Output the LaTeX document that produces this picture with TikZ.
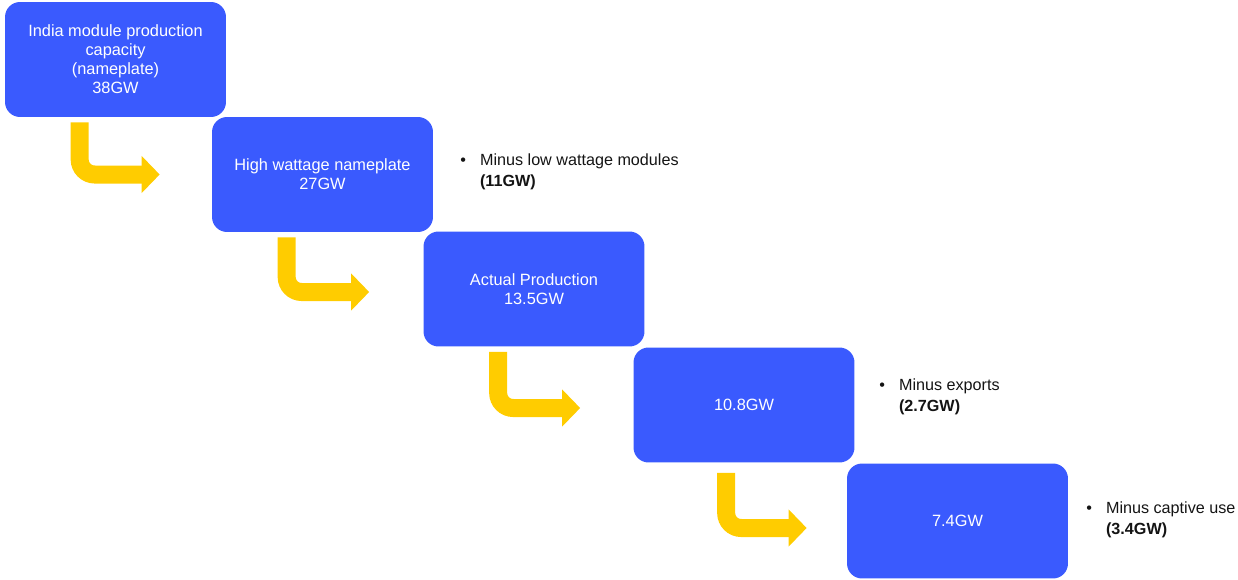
\documentclass[tikz,border=0pt]{standalone}
\usepackage{fontspec}
\setmainfont{Liberation Sans}
\usetikzlibrary{arrows.meta}
\definecolor{boxblue}{RGB}{58,90,254}
\definecolor{flowyellow}{RGB}{255,204,0}
\definecolor{notetext}{RGB}{20,20,20}
\begin{document}
\begin{tikzpicture}[x=0.02cm,y=-0.02cm,
  stagebox/.style={fill=boxblue,rounded corners=0.3cm,minimum width=4.42cm,minimum height=2.3cm,
    text=white,align=center,inner sep=2pt,font=\fontsize{9.3}{10.8}\selectfont},
  flow/.style={draw=flowyellow,line width=0.36cm,rounded corners=0.3cm,
    -{Triangle[width=0.72cm,length=0.36cm]}},
  note/.style={anchor=north west,inner sep=0pt,text=notetext,font=\fontsize{9.2}{12}\selectfont}]

\useasboundingbox (0,0) rectangle (1238,579);

\node [stagebox] (cap) at (115.5,59.5) {India module production\\capacity\\(nameplate)\\38GW};
\node [stagebox] (high) at (322.5,174.5) {High wattage nameplate\\27GW};
\node [stagebox] (actual) at (534,289) {Actual Production\\13.5GW};
\node [stagebox] (export) at (744,405) {10.8GW};
\node [stagebox] (captive) at (957.5,521) {7.4GW};

\draw [flow] ([shift={(75,5)}]cap.south west) |- ([shift={(-52,0)}]high.west);
\draw [flow] ([shift={(75,5)}]high.south west) |- ([shift={(-54,3)}]actual.west);
\draw [flow] ([shift={(75,5)}]actual.south west) |- ([shift={(-53,3)}]export.west);
\draw [flow] ([shift={(93,10)}]export.south west) |- ([shift={(-40,7)}]captive.west);

\node [note] (lowwatt) at (460,150) {\begin{tabular}{@{}l@{\hspace{8pt}}l@{}}\textbullet & Minus low wattage modules\\ & \textbf{(11GW)}\end{tabular}};
\node [note] (exports) at (879,375) {\begin{tabular}{@{}l@{\hspace{8pt}}l@{}}\textbullet & Minus exports\\ & \textbf{(2.7GW)}\end{tabular}};
\node [note] (captiveuse) at (1086,498) {\begin{tabular}{@{}l@{\hspace{8pt}}l@{}}\textbullet & Minus captive use\\ & \textbf{(3.4GW)}\end{tabular}};

\end{tikzpicture}
\end{document}
